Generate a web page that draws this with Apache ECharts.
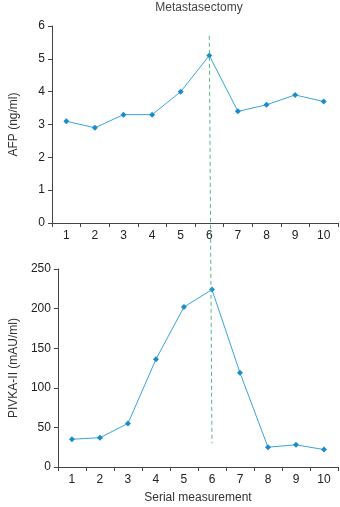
<html>
<head>
<meta charset="utf-8" />
<script src='https://cdn.jsdelivr.net/npm/echarts@6/dist/echarts.min.js'></script>
<style type="text/css">
	html, body, #main {
	width: 100%;
	height: 100%;
	margin: 0;
	background: #fff;
}
</style>
</head>
<body>
	<div id='main'></div>
	<script>
		var measurements = ['1', '2', '3', '4', '5', '6', '7', '8', '9', '10'];
		var afp = [3.1, 2.9, 3.3, 3.3, 4.0, 5.1, 3.4, 3.6, 3.9, 3.7];
		var pivka = [35, 37, 55, 136, 202, 224, 119, 25, 28, 22];
		var surgeryIndex = 5; // metastasectomy at measurement 6
		var dashTopAfp = 5.7, dashBottomPivka = 30;

		var chart = echarts.init(document.getElementById('main'));
		var font = 'Liberation Sans, Arial, sans-serif';
		var lineColor = '#3aa3dc', markColor = '#1a8ccc';

		function xAxis(idx, name) {
			return {
				type : 'category',
				gridIndex : idx,
				data : measurements,
				boundaryGap : true,
				name : name,
				nameLocation : 'middle',
				nameGap : 25,
				nameTextStyle : { fontFamily : font, fontSize : 12, color : '#333' },
				axisLine : { lineStyle : { color : '#444', width : 1 } },
				axisTick : { show : true, length : 4, alignWithLabel : false, lineStyle : { color : '#444' } },
				axisLabel : { fontFamily : font, fontSize : 12, color : '#222', margin : 7 },
				splitLine : { show : false }
			};
		}
		function yAxis(idx, name, max, interval) {
			return {
				type : 'value',
				gridIndex : idx,
				min : 0,
				max : max,
				interval : interval,
				name : name,
				nameLocation : 'middle',
				nameGap : 32,
				nameTextStyle : { fontFamily : font, fontSize : 12, color : '#333' },
				axisLine : { show : true, lineStyle : { color : '#444', width : 1 } },
				axisTick : { show : true, length : 4, lineStyle : { color : '#444' } },
				axisLabel : { fontFamily : font, fontSize : 12, color : '#222', margin : 7 },
				splitLine : { show : false }
			};
		}
		function series(idx, data) {
			return {
				type : 'line',
				xAxisIndex : idx,
				yAxisIndex : idx,
				data : data,
				symbol : 'diamond',
				symbolSize : 6,
				lineStyle : { color : lineColor, width : 1 },
				itemStyle : { color : markColor },
				animation : false
			};
		}

		var option = {
			animation : false,
			title : {
				text : 'Metastasectomy',
				left : 194,
				textAlign : 'center',
				top : -3,
				textStyle : { fontFamily : font, fontSize : 12, fontWeight : 'normal', color : '#444' }
			},
			grid : [
				{ left : 50, right : 2, top : 26, height : 197 },
				{ left : 50, right : 2, top : 269, height : 198 }
			],
			xAxis : [ xAxis(0, ''), xAxis(1, 'Serial measurement') ],
			yAxis : [ yAxis(0, 'AFP (ng/ml)', 6, 1), yAxis(1, 'PIVKA-II (mAU/ml)', 250, 50) ],
			series : [ series(0, afp), series(1, pivka) ]
		};
		chart.setOption(option);

		// vertical dashed marker spanning both panels
		var p1 = chart.convertToPixel({ gridIndex : 0 }, [surgeryIndex, dashTopAfp]);
		var p2 = chart.convertToPixel({ gridIndex : 1 }, [surgeryIndex, dashBottomPivka]);
		chart.setOption({
			graphic : [ {
				type : 'line',
				shape : { x1 : p1[0], y1 : p1[1], x2 : p2[0], y2 : p2[1] },
				style : { stroke : '#4dba82', lineWidth : 1, lineDash : [4, 3] },
				z : 10
			} ]
		});

		window.onresize = function() {
			chart.resize();
		}
	</script>
</body>
</html>
